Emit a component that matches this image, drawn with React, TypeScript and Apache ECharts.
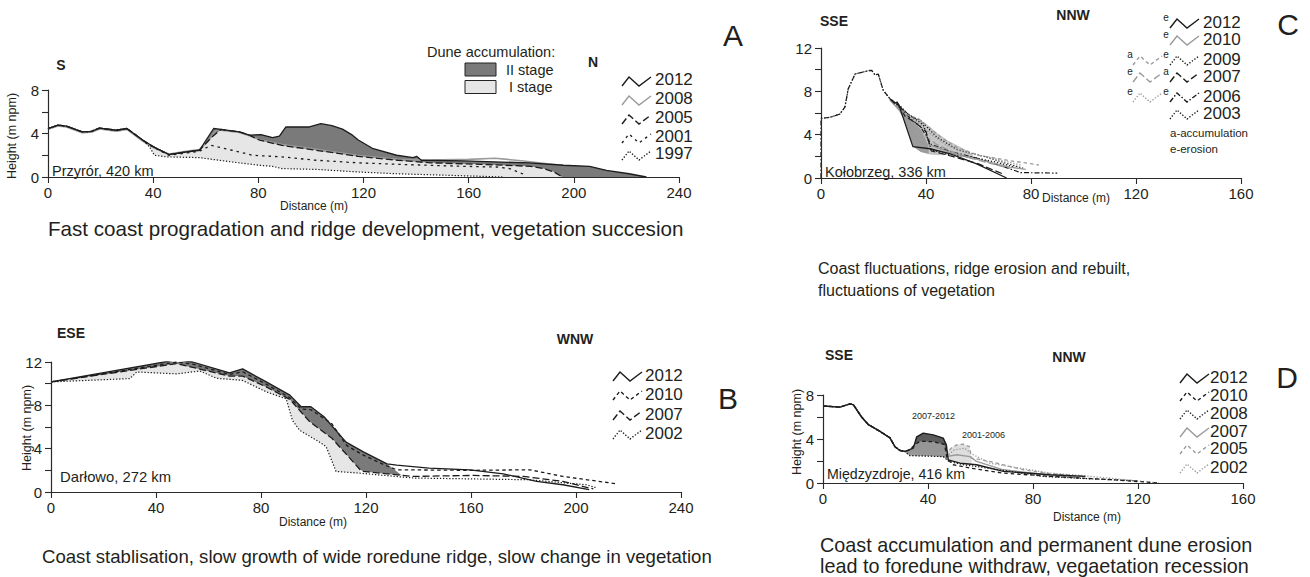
import React, { useEffect, useRef } from "react";
import * as echarts from "echarts";

type P = [number, number];

// ---------- Panel A : Przyrór, 420 km ----------
const A_COMMON: P[] = [[0,4.46],[3.8,4.77],[7,4.68],[13,4.15],[16.5,4.2],[19.6,4.5],[26,4.3],[30,4.46],[36,3.4]];
const A2012: P[] = [...A_COMMON,[40,2.8],[46,2.06],[52.5,2.3],[57.6,2.46],[63,4.46],[65.8,4.37],[72.8,4.15],[76.6,3.85],[81,3.9],[85.4,3.63],[88,3.75],[90.5,4.6],[99.4,4.6],[103.8,4.9],[108,4.72],[112,4.4],[115.8,3.85],[118,3.4],[123.7,2.6],[132.6,2.0],[138.9,1.78],[140.2,1.9],[142,1.54],[157.9,1.48],[183,1.3],[196,1.08],[206,0.98],[212.4,0.6],[221,0.3],[227.6,0]];
const A2008: P[] = [[0,4.38],[3.8,4.7],[7,4.6],[13,4.08],[16.5,4.12],[19.6,4.42],[26,4.22],[30,4.38],[36,3.3],[40,2.72],[46,2.12],[52.5,2.36],[57.6,2.52],[61,3.3],[64,4.35],[72.8,4.1],[76.6,3.8],[80.4,3.45],[89,2.98],[102,2.55],[118,1.98],[133,1.62],[145,1.55],[160,1.62],[170,1.72],[180,1.5],[190,1.22],[196,1.08]];
const A2005: P[] = [...A_COMMON,[40,2.8],[46,2.06],[52.5,2.3],[57.6,2.46],[62,3.6],[65.8,4.37],[72.8,4.15],[76.6,3.85],[80.4,3.4],[89,2.9],[102,2.46],[118,1.9],[133,1.54],[145.5,1.3],[164.6,1.17],[183.6,0.98],[188.7,0.77],[192.5,0.46],[195.6,0]];
const A2001: P[] = [...A_COMMON,[38,3.0],[42,2.5],[46,2.0],[52.5,2.2],[57.6,2.37],[62,2.92],[70,2.46],[77.8,2.0],[89,1.85],[102,1.54],[118,1.3],[132.6,1.17],[158,0.98],[170.5,0.92],[175.6,0.77],[182,0.15]];
const A1997: P[] = [...A_COMMON,[38.6,2.77],[40.5,2.0],[45,1.85],[57.6,1.78],[70,1.38],[80.4,1.08],[85.4,0.98],[89,0.77],[102,0.7],[118,0.46],[132.6,0.3],[173,0]];
const A_YEARS = ["2012", "2008", "2005", "2001", "1997"];

// ---------- Panel B : Darłowo, 272 km ----------
const B2012: P[] = [[0,10.16],[47.8,12.2],[54,12.0],[68,11.0],[73,11.36],[82,10.16],[91,8.94],[95.3,7.87],[99,7.87],[104,6.95],[112.4,4.6],[119,3.7],[128,2.6],[131.7,2.48],[144,2.2],[159.6,2.05],[172.3,1.68],[185,0.98],[195,0.67],[205,0.21]];
const B2010: P[] = [[0,10.16],[47.8,12.0],[54,11.8],[68,10.85],[73,11.1],[82,9.95],[91,8.7],[95.3,7.65],[99,7.6],[107,6.3],[112.6,4.3],[119,3.4],[128,2.4],[131.7,2.05],[159.6,2.0],[182.4,2.05],[195,1.44],[215,0.77]];
const B2007: P[] = [[0,10.16],[47.8,11.85],[54,11.5],[68,10.7],[73,10.7],[82,9.7],[91,8.54],[98.5,6.5],[107,4.96],[117.8,2.05],[119,1.9],[138,1.44],[160.8,1.53],[180,1.44],[195,0.98],[206.6,0.28]];
const B2002: P[] = [[0,10.16],[30,10.47],[32.7,11.08],[47.8,10.9],[56.7,11.17],[63,10.5],[73,10.3],[82,9.25],[89.6,8.6],[92,6.6],[94.7,5.7],[102,4.65],[104.8,4.2],[108.6,1.9],[117.5,1.74],[138,1.29],[182,1.13],[204,0.67],[208,0.37]];
const B_YEARS = ["2012", "2010", "2007", "2002"];

// ---------- Panel C : Kołobrzeg, 336 km ----------
const C_PROFILE: P[] = [[0,5.5],[3.4,5.6],[7.2,5.9],[9.1,6.55],[10.4,8.25],[13,9.6],[18,9.9],[19.3,9.94],[20.6,9.5],[21.8,9.6],[23.7,8.1],[26.3,7.3]];
const C2012: P[] = [[26.3,7.3],[28,6.9],[29,7.0],[30,6.5],[35,2.9],[41.5,2.7],[49,2.25],[59.3,1.3],[70.7,0]];
const C2010: P[] = [[26.3,7.2],[30,6.2],[34,4.5],[37,3.4],[42,3.0],[50,2.3],[60,1.7],[72,1.0],[78,0.8]];
const C2009a: P[] = [[27,7.1],[32,5.9],[37,5.5],[41,4.7],[46,3.7],[52,2.8],[60,2.1],[72,1.6],[83,1.2]];
const C2009e: P[] = [[27,7.2],[30,6.5],[35,5.6],[39,4.9],[42,2.6],[48,2.2],[58,1.9],[66,1.5],[74,1.0]];
const C2007e: P[] = [[26.3,7.2],[30,6.3],[34,5.0],[38,4.2],[44,3.1],[52,2.2],[62,1.5],[72,0.9]];
const C2007a: P[] = [[26.3,7.3],[28,6.8],[29,7.0],[32,5.7],[36,5.1],[40,4.3],[42,2.5],[50,2.0],[60,1.3],[69,0.4]];
const C2006g: P[] = [[26.3,7.3],[31,6.1],[36,5.3],[42,4.0],[48,3.0],[56,2.3],[66,1.8],[76,1.2]];
const C2006: P[] = [[0,0],...C_PROFILE,[30,6.6],[34,5.5],[38,4.7],[42,3.1],[50,2.4],[60,1.8],[70,1.0],[76,0.5],[90,0.45]];
const C2003: P[] = [...C_PROFILE,[30,6.7],[34,5.7],[38,5.3],[44,3.8],[52,2.6],[62,2.0],[70,1.4],[77,0.9]];
const C_ACC_TOP: P[] = [[26.5,7.3],[29,6.9],[33,5.7],[37,5.5],[40,5.0],[44,4.2],[48,3.5],[52,3.0],[56,2.5],[58,2.1]];
const C_ACC_CORE: P[] = [[28,6.9],[31,6.3],[35,5.2],[38,4.5],[40,3.5],[41,2.8]];
const C_ACC_BASE: P[] = [[26,7.3],[28,6.9],[30,6.5],[35,2.9],[38,2.4],[42,2.15],[46,2.1],[50,2.2],[55,1.9],[60,1.6]];
const C_YEARS = ["2012", "2010", "2009", "2007", "2006", "2003"];

// ---------- Panel D : Międzyzdroje, 416 km ----------
const D_PROFILE: P[] = [[0,7.0],[6.5,6.9],[10.3,7.2],[11.6,7.1],[14.7,6.0],[17.3,5.3],[21.7,4.7],[25.5,4.1],[27.4,3.3],[29.3,2.96],[31.2,2.87]];
const D2012: P[] = [...D_PROFILE,[34.4,3.17],[35.7,4.2],[38.2,4.53],[42,4.38],[45.8,4.08],[47,3.47],[47.7,2.1],[52.2,1.8],[58.5,1.66],[68.7,1.06],[86.5,0.75],[100,0.6]];
const D2010: P[] = [...D_PROFILE,[33,3.0],[35,3.5],[37,3.8],[42,3.75],[46.3,3.5],[47.3,2.2],[49.6,1.66],[56,1.36],[68.7,0.9],[90,0.55],[110,0.3],[128,0]];
const D2008: P[] = [...D_PROFILE,[33,2.5],[45.8,2.4],[48,1.96],[53.5,1.66],[60,1.45],[70,1.1],[84,0.6],[100,0.4],[120,0.2]];
const D2007: P[] = [...D_PROFILE,[33,2.7],[47,2.4],[51,2.57],[56,2.4],[58.5,1.96],[68.7,1.2],[86.5,0.7],[98,0.5]];
const D2005: P[] = [...D_PROFILE,[33,2.6],[47,2.7],[49,3.2],[51,3.47],[53.5,3.53],[55.8,3.3],[56.6,2.27],[63.6,1.96],[76.3,1.2],[86.5,0.85],[100,0.6]];
const D2002: P[] = [...D_PROFILE,[33,2.5],[47,2.4],[50,3.0],[54,3.17],[56.5,2.66],[63.6,1.8],[86.5,0.9],[100,0.65],[128,0]];
const D_YEARS = ["2012", "2010", "2008", "2007", "2005", "2002"];

const X_TICKS_A = { max: 240, interval: 40 };
const X_TICKS_C = { max: 160, interval: 40 };

const FONT = "'Liberation Sans', Arial, Helvetica, sans-serif";
const INK = "#231f20";
const BLACK = "#1c1c1c";
const GREY = "#9a9a9a";
const SOLID = "solid";
const LONG: number[] = [7, 3];
const SHORT: number[] = [3.5, 3];
const SPARSE: number[] = [2.5, 4];
const DOT: number[] = [1.3, 1.8];
const DASHDOT: number[] = [5, 2, 1.5, 2];

const range = (d: P[], a: number, b: number): P[] => d.filter((p) => p[0] >= a && p[0] <= b);

const ln = (g: number, data: P[], color: string, type: any, width = 1.2) => ({
  type: "line", xAxisIndex: g, yAxisIndex: g, data, symbol: "none", showSymbol: false, silent: true,
  lineStyle: { color, width, type, cap: "butt" }, z: 3,
});
const fill = (g: number, data: P[], color: string) => ({
  type: "line", xAxisIndex: g, yAxisIndex: g, data, symbol: "none", showSymbol: false, silent: true,
  lineStyle: { width: 0, opacity: 0 }, areaStyle: { color, opacity: 1 }, z: 2,
});

const T = (text: string, x: number, y: number, size: number, opts: any = {}) => ({
  type: "text", x, y, rotation: opts.rotation || 0, silent: true, z: 100,
  style: {
    text, fontSize: size, fontFamily: FONT, fontWeight: opts.weight || "normal", fill: opts.color || INK,
    textAlign: opts.align || "left", textVerticalAlign: "middle", align: opts.align || "left", verticalAlign: "middle",
  },
});
const icon = (x: number, y: number, color: string, dash: any, width = 1.2) => ({
  type: "polyline", silent: true, z: 100,
  shape: { points: [[x, y + 5], [x + 7, y - 4], [x + 17, y + 5], [x + 29, y - 4]] },
  style: { stroke: color, lineWidth: width, lineDash: dash === SOLID ? null : dash, fill: null },
});

export default function App() {
  const ref = useRef<HTMLDivElement>(null);
  useEffect(() => {
    if (!ref.current) return;
    const chart = echarts.init(ref.current, undefined, { renderer: "svg" });

    const axisLine = { lineStyle: { color: "#2a2a2a", width: 1.2 } };
    const xAxis = (g: number, t: { max: number; interval: number }) => ({
      gridIndex: g, type: "value", min: 0, max: t.max, interval: t.interval, z: 10,
      axisLine, axisTick: { show: true, length: 6, lineStyle: { color: "#2a2a2a", width: 1.1 } },
      axisLabel: { fontSize: 15, color: INK, margin: 8, fontFamily: FONT },
      splitLine: { show: false },
    });
    const yAxis = (g: number, max: number) => ({
      gridIndex: g, type: "value", min: 0, max, interval: 2, z: 10,
      axisLine: { show: true, ...axisLine }, axisTick: { show: true, length: 6, lineStyle: { color: "#2a2a2a", width: 1.1 } },
      axisLabel: { fontSize: 15, color: INK, margin: 9, fontFamily: FONT, formatter: (v: number) => (v % 4 === 0 ? String(v) : "") },
      splitLine: { show: false },
    });

    const series: any[] = [
      // A
      fill(0, A2012, "#7a7a7a"),
      fill(0, A2005, "#e6e6e6"),
      fill(0, A1997, "#ffffff"),
      ln(0, A2008, GREY, SOLID, 1.6),
      ln(0, A1997, BLACK, DOT, 1.2),
      ln(0, A2001, BLACK, SPARSE, 1.3),
      ln(0, A2005, BLACK, LONG, 1.3),
      ln(0, A2012, BLACK, SOLID, 1.3),
      // B
      fill(1, [...range(B2012, 0, 128), [134, 1.45]], "#7a7a7a"),
      fill(1, range(B2007, 0, 119), "#e6e6e6"),
      fill(1, B2002, "#ffffff"),
      fill(1, range(B2007, 117.8, 140), "#ffffff"),
      ln(1, B2002, BLACK, DOT, 1.2),
      ln(1, B2007, BLACK, LONG, 1.3),
      ln(1, B2010, BLACK, SHORT, 1.3),
      ln(1, B2012, BLACK, SOLID, 1.3),
      // C
      fill(2, C_ACC_TOP, "#c6c6c6"),
      fill(2, C_ACC_CORE, "#9c9c9c"),
      fill(2, C_ACC_BASE, "#ffffff"),
      ln(2, C2003, BLACK, DOT, 1.2),
      ln(2, C2006g, GREY, DOT, 1.3),
      ln(2, C2006, BLACK, DASHDOT, 1.2),
      ln(2, C2007e, GREY, LONG, 1.3),
      ln(2, C2007a, BLACK, LONG, 1.2),
      ln(2, C2009a, GREY, SHORT, 1.3),
      ln(2, C2009e, BLACK, DOT, 1.3),
      ln(2, C2010, GREY, SOLID, 1.4),
      ln(2, C2012, BLACK, SOLID, 1.3),
      // D
      fill(3, range(D2012, 31.2, 47.7), "#5c5c5c"),
      fill(3, range(D2010, 29.3, 47.3), "#969696"),
      fill(3, range(D2005, 47, 56.6), "#dedede"),
      fill(3, range(D2008, 27.4, 48), "#ffffff"),
      fill(3, range(D2012, 47.7, 58.5), "#ffffff"),
      ln(3, D2002, GREY, DOT, 1.3),
      ln(3, D2005, GREY, SHORT, 1.3),
      ln(3, D2007, GREY, SOLID, 1.4),
      ln(3, D2008, BLACK, DOT, 1.3),
      ln(3, D2010, BLACK, SHORT, 1.3),
      ln(3, D2012, BLACK, SOLID, 1.4),
    ];

    const graphic: any[] = [];
    // Panel letters
    graphic.push(T("A", 733, 35, 30, { align: "center" }));
    graphic.push(T("B", 728, 398, 30, { align: "center" }));
    graphic.push(T("C", 1288, 24, 30, { align: "center" }));
    graphic.push(T("D", 1287, 377, 30, { align: "center" }));
    // Direction labels
    graphic.push(T("S", 61, 65, 14, { align: "center", weight: "bold" }));
    graphic.push(T("N", 593, 62, 14, { align: "center", weight: "bold" }));
    graphic.push(T("ESE", 71, 333, 14, { align: "center", weight: "bold" }));
    graphic.push(T("WNW", 575, 339, 14, { align: "center", weight: "bold" }));
    graphic.push(T("SSE", 834, 21, 14, { align: "center", weight: "bold" }));
    graphic.push(T("NNW", 1073, 15, 14, { align: "center", weight: "bold" }));
    graphic.push(T("SSE", 839, 355, 14, { align: "center", weight: "bold" }));
    graphic.push(T("NNW", 1069, 357, 14, { align: "center", weight: "bold" }));
    // Site names
    graphic.push(T("Przyrór, 420 km", 52, 171, 14.5));
    graphic.push(T("Darłowo, 272 km", 60, 477, 14.8));
    graphic.push(T("Kołobrzeg, 336 km", 825, 172, 14.5));
    graphic.push(T("Międzyzdroje, 416 km", 827, 474, 14.2));
    graphic.push(T("2007-2012", 912, 416, 9));
    graphic.push(T("2001-2006", 962, 435, 9));
    // Axis titles
    graphic.push(T("Distance (m)", 314, 206, 12, { align: "center" }));
    graphic.push(T("Distance (m)", 313, 522, 12, { align: "center" }));
    graphic.push(T("Distance (m)", 1076, 198, 12, { align: "center" }));
    graphic.push(T("Distance (m)", 1087, 517, 12, { align: "center" }));
    graphic.push(T("Height (m npm)", 12, 136, 12.5, { align: "center", rotation: Math.PI / 2 }));
    graphic.push(T("Height (m npm)", 27, 428, 12.5, { align: "center", rotation: Math.PI / 2 }));
    graphic.push(T("Height (m npm)", 797, 432, 12.5, { align: "center", rotation: Math.PI / 2 }));
    // Captions
    graphic.push(T("Fast coast progradation and ridge development, vegetation succesion", 48, 228, 20.6));
    graphic.push(T("Coast stablisation, slow growth of wide roredune ridge, slow change in vegetation", 42, 556, 18.6));
    graphic.push(T("Coast fluctuations, ridge erosion and rebuilt,", 818, 268, 16));
    graphic.push(T("fluctuations of vegetation", 818, 290, 16));
    graphic.push(T("Coast accumulation and permanent dune erosion", 820, 545, 19.8));
    graphic.push(T("lead to foredune withdraw, vegaetation recession", 820, 566, 19.8));

    // Legend A
    graphic.push(T("Dune accumulation:", 427, 52, 14.5));
    graphic.push({ type: "rect", silent: true, z: 100, shape: { x: 465, y: 63, width: 31, height: 13 }, style: { fill: "#7a7a7a", stroke: "#222", lineWidth: 1 } });
    graphic.push({ type: "rect", silent: true, z: 100, shape: { x: 465, y: 80.5, width: 31, height: 13 }, style: { fill: "#e6e6e6", stroke: "#222", lineWidth: 1 } });
    graphic.push(T("II stage", 506, 70, 14.5));
    graphic.push(T("I stage", 509, 87, 14.5));
    const aStyles: any[] = [[BLACK, SOLID], [GREY, SOLID], [BLACK, LONG], [BLACK, SPARSE], [BLACK, DOT]];
    const aY = [79, 98, 117, 136, 153];
    A_YEARS.forEach((yr, i) => {
      graphic.push(icon(622, aY[i] + 2, aStyles[i][0], aStyles[i][1], 1.4));
      graphic.push(T(yr, 655, aY[i], 17));
    });
    // Legend B
    const bStyles: any[] = [[BLACK, SOLID], [BLACK, SHORT], [BLACK, LONG], [BLACK, DOT]];
    const bY = [375, 394, 414, 433];
    B_YEARS.forEach((yr, i) => {
      graphic.push(icon(613, bY[i] + 1, bStyles[i][0], bStyles[i][1], 1.4));
      graphic.push(T(yr, 645, bY[i], 17));
    });
    // Legend C
    const cY = [22, 39, 59, 76, 96, 113];
    const cRight: any[] = [[BLACK, SOLID, "e"], [GREY, SOLID, "e"], [BLACK, DOT, "e"], [BLACK, LONG, "a"], [BLACK, DASHDOT, "e"], [BLACK, DOT, ""]];
    const cLeft: any[] = [null, null, [GREY, SHORT, "a"], [GREY, LONG, "e"], [GREY, DOT, "e"], null];
    C_YEARS.forEach((yr, i) => {
      const r = cRight[i];
      graphic.push(icon(1170, cY[i] + 1, r[0], r[1], 1.4));
      if (r[2]) graphic.push(T(r[2], 1166, cY[i] - 5, 10, { align: "center" }));
      const l = cLeft[i];
      if (l) {
        graphic.push(icon(1133, cY[i] + 1, l[0], l[1], 1.4));
        graphic.push(T(l[2], 1130, cY[i] - 5, 10, { align: "center" }));
      }
      graphic.push(T(yr, 1203, cY[i], 17));
    });
    graphic.push(T("a-accumulation", 1170, 133, 11.5));
    graphic.push(T("e-erosion", 1170, 149, 11.5));
    // Legend D
    const dY = [377, 395, 413, 431, 448, 467];
    const dStyles: any[] = [[BLACK, SOLID], [BLACK, SHORT], [BLACK, DOT], [GREY, SOLID], [GREY, SHORT], [GREY, DOT]];
    D_YEARS.forEach((yr, i) => {
      graphic.push(icon(1180, dY[i] + 1, dStyles[i][0], dStyles[i][1], 1.4));
      graphic.push(T(yr, 1210, dY[i], 17));
    });

    chart.setOption({
      animation: false,
      backgroundColor: "#ffffff",
      textStyle: { fontFamily: FONT },
      grid: [
        { left: 48, top: 90, width: 631, height: 87 },
        { left: 51, top: 362, width: 630, height: 130 },
        { left: 821, top: 48, width: 420, height: 130 },
        { left: 823, top: 395, width: 420, height: 88 },
      ],
      xAxis: [xAxis(0, X_TICKS_A), xAxis(1, X_TICKS_A), xAxis(2, X_TICKS_C), xAxis(3, X_TICKS_C)],
      yAxis: [yAxis(0, 8), yAxis(1, 12), yAxis(2, 12), yAxis(3, 8)],
      series,
      graphic,
    });
    return () => chart.dispose();
  }, []);
  return <div ref={ref} style={{ position: "fixed", left: 0, top: 0, width: 1310, height: 577, background: "#fff" }} />;
}
